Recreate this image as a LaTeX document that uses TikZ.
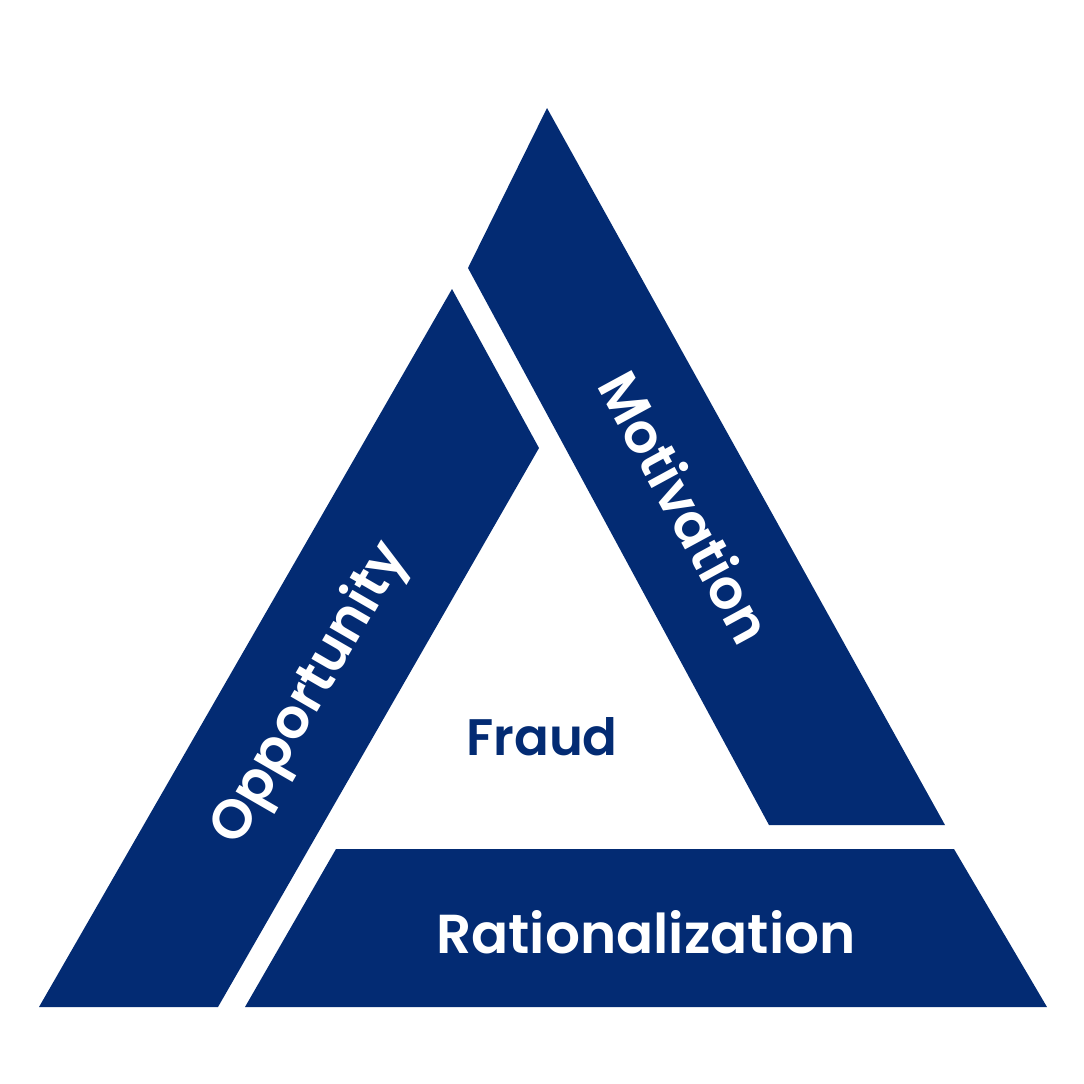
\documentclass[tikz,border=0pt]{standalone}
\usepackage{fontspec}
\setmainfont{Poppins}[BoldFont={Poppins SemiBold}]
\usepackage{tikz}
\definecolor{fraudblue}{RGB}{3,43,115}
\tikzset{
band/.style = {fill=fraudblue, draw=none},
bandlabel/.style = {text=white, font=\fontsize{15.6}{18}\selectfont\bfseries, inner sep=0pt},
centerlabel/.style = {text=fraudblue, font=\fontsize{14.6}{17}\selectfont\bfseries, inner sep=0pt}
}
\begin{document}
\begin{tikzpicture}[x=0.01cm, y=-0.01cm]
  \useasboundingbox (0,0) rectangle (1084,1084);
  % the three bands
  \fill [band] (547,108) -- (945,825) -- (769,825) -- (468,268) -- cycle;
  \fill [band] (452,289) -- (539,448) -- (218,1007) -- (39,1007) -- cycle;
  \fill [band] (336,849) -- (954,849) -- (1047,1007) -- (245,1007) -- cycle;

  \node [bandlabel, rotate=-61.5]              (motivation)  at (686,507) {Motivation};
  \node [bandlabel, rotate=60]                 (opportunity) at (311,694) {Opportunity};
  \node [bandlabel, anchor=base]               (rational)    at (646,953) {Rationalization};
  \node [centerlabel, anchor=base]             (fraud)       at (542,755) {Fraud};
\end{tikzpicture}
\end{document}
